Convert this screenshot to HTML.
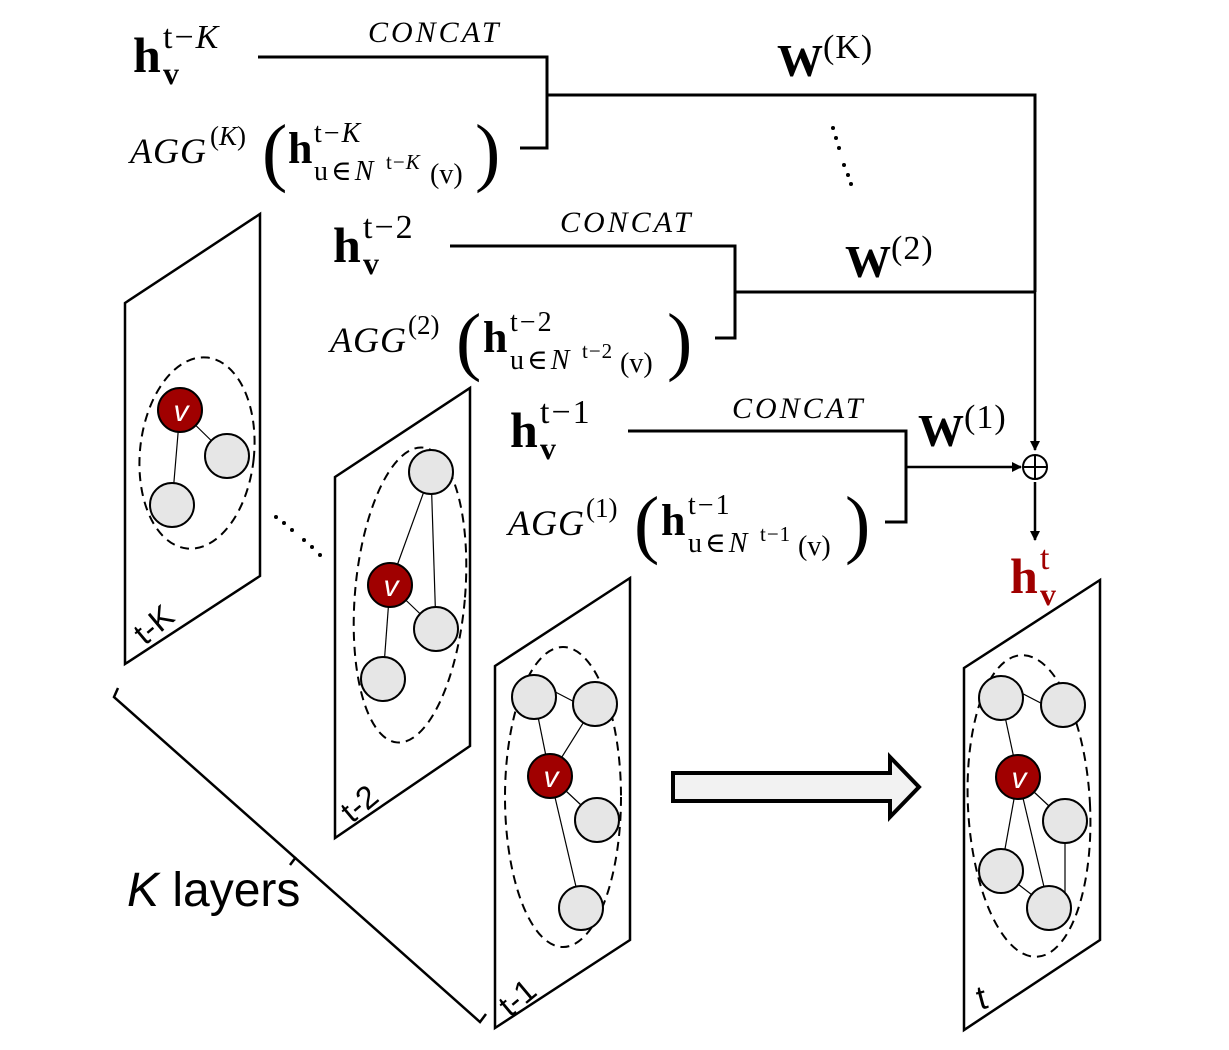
<!DOCTYPE html>
<html><head><meta charset="utf-8"><style>html,body{margin:0;padding:0;background:#fff}svg{display:block}</style></head>
<body>
<svg width="1229" height="1050" viewBox="0 0 1229 1050" xmlns="http://www.w3.org/2000/svg" font-family="Liberation Serif, DejaVu Serif, serif">
<defs>
<marker id="ah" markerWidth="10" markerHeight="10" refX="9" refY="5" orient="auto" markerUnits="userSpaceOnUse"><path d="M0,0 L10,5 L0,10 z" fill="#000"/></marker>
</defs>

<g stroke="#000" stroke-width="3" fill="none">
<polyline points="258,57 547,57 547,148 520,148"/>
<polyline points="547,95 1035,95 1035,292"/>
<polyline points="450,246 735,246 735,338 715,338"/>
<polyline points="735,292 1035,292"/>
<polyline points="628,431 906,431 906,522 885,522"/>
</g>
<g stroke="#000" stroke-width="2.5" fill="none">
<line x1="1035" y1="292" x2="1035" y2="450" marker-end="url(#ah)"/>
<line x1="906" y1="467" x2="1021" y2="467" marker-end="url(#ah)"/>
<line x1="1035" y1="482" x2="1035" y2="540" marker-end="url(#ah)"/>
<circle cx="1035" cy="467" r="12" stroke-width="2"/>
<line x1="1023" y1="467" x2="1047" y2="467" stroke-width="2"/>
<line x1="1035" y1="455" x2="1035" y2="479" stroke-width="2"/>
</g>

<g font-style="italic" font-size="30" letter-spacing="3">
<text x="368" y="42">CONCAT</text>
<text x="560" y="232">CONCAT</text>
<text x="732" y="418">CONCAT</text>
</g>

<g font-size="46">
<text x="777" y="76"><tspan font-weight="bold">W</tspan><tspan font-size="34" dy="-18" letter-spacing="1">(K)</tspan></text>
<text x="845" y="277"><tspan font-weight="bold">W</tspan><tspan font-size="34" dy="-18" letter-spacing="1">(2)</tspan></text>
<text x="918" y="446"><tspan font-weight="bold">W</tspan><tspan font-size="34" dy="-18" letter-spacing="1">(1)</tspan></text>
</g>
<g fill="#000">
<circle cx="833" cy="128" r="2"/><circle cx="836" cy="138" r="2"/><circle cx="839" cy="148" r="2"/><circle cx="844" cy="165" r="2"/><circle cx="848" cy="175" r="2"/><circle cx="851" cy="184" r="2"/>
</g>

<g transform="translate(133,72)">
<text font-size="50" font-weight="bold">h</text>
<text x="30" y="-24" font-size="34" letter-spacing="2">t−<tspan font-style="italic">K</tspan></text>
<text x="30" y="12" font-size="32" font-weight="bold">v</text>
</g>
<g transform="translate(333,262)">
<text font-size="50" font-weight="bold">h</text>
<text x="30" y="-24" font-size="34" letter-spacing="2">t−2</text>
<text x="30" y="12" font-size="32" font-weight="bold">v</text>
</g>
<g transform="translate(510,447)">
<text font-size="50" font-weight="bold">h</text>
<text x="30" y="-24" font-size="34" letter-spacing="2">t−1</text>
<text x="30" y="12" font-size="32" font-weight="bold">v</text>
</g>
<g transform="translate(1010,593)" fill="#a00000">
<text font-size="50" font-weight="bold">h</text>
<text x="30" y="-24" font-size="34">t</text>
<text x="30" y="12" font-size="32" font-weight="bold">v</text>
</g>

<g transform="translate(130,163)">
<text font-size="36" font-style="italic" letter-spacing="1">AGG</text>
<text x="80" y="-18" font-size="27">(<tspan font-style="italic">K</tspan>)</text>
<text x="132" y="14" font-size="76">(</text>
<text x="158" y="0" font-size="44" font-weight="bold">h</text>
<text x="184" y="-21" font-size="28" letter-spacing="2">t−<tspan font-style="italic">K</tspan></text>
<text x="184" y="17" font-size="28" letter-spacing="3">u∈<tspan font-style="italic">N</tspan></text>
<text x="256" y="6" font-size="21" letter-spacing="1">t−<tspan font-style="italic">K</tspan></text>
<text x="300" y="20" font-size="28">(v)</text>
<text x="345" y="14" font-size="76">)</text>
</g>
<g transform="translate(330,352)">
<text font-size="36" font-style="italic" letter-spacing="1">AGG</text>
<text x="78" y="-18" font-size="27">(2)</text>
<text x="126" y="14" font-size="76">(</text>
<text x="153" y="0" font-size="44" font-weight="bold">h</text>
<text x="180" y="-21" font-size="28" letter-spacing="2">t−2</text>
<text x="180" y="17" font-size="28" letter-spacing="3">u∈<tspan font-style="italic">N</tspan></text>
<text x="252" y="6" font-size="21" letter-spacing="1">t−2</text>
<text x="290" y="20" font-size="28">(v)</text>
<text x="337" y="14" font-size="76">)</text>
</g>
<g transform="translate(508,535)">
<text font-size="36" font-style="italic" letter-spacing="1">AGG</text>
<text x="78" y="-18" font-size="27">(1)</text>
<text x="126" y="14" font-size="76">(</text>
<text x="153" y="0" font-size="44" font-weight="bold">h</text>
<text x="180" y="-21" font-size="28" letter-spacing="2">t−1</text>
<text x="180" y="17" font-size="28" letter-spacing="3">u∈<tspan font-style="italic">N</tspan></text>
<text x="252" y="6" font-size="21" letter-spacing="1">t−1</text>
<text x="290" y="20" font-size="28">(v)</text>
<text x="337" y="14" font-size="76">)</text>
</g>

<g stroke="#000" stroke-width="2.5" fill="#fff">
<polygon points="125,303 260,214 260,576 125,664"/>
<polygon points="335,477 470,388 470,746 335,838"/>
<polygon points="495,666 630,578 630,940 495,1028"/>
<polygon points="964,668 1100,580 1100,940 964,1030"/>
</g>

<g stroke="#000" stroke-width="2" fill="none" stroke-dasharray="9,6">
<ellipse cx="197" cy="453" rx="57" ry="96" transform="rotate(6 197 453)"/>
<ellipse cx="410" cy="595" rx="55" ry="148" transform="rotate(5 410 595)"/>
<ellipse cx="563" cy="797" rx="58" ry="150"/>
<ellipse cx="1029" cy="806" rx="61" ry="151" transform="rotate(-3 1029 806)"/>
</g>

<g stroke="#000" stroke-width="1.2">
<line x1="180" y1="410" x2="227" y2="456"/><line x1="180" y1="410" x2="172" y2="505"/>
<line x1="431" y1="472" x2="390" y2="585"/><line x1="431" y1="472" x2="436" y2="629"/><line x1="390" y1="585" x2="436" y2="629"/><line x1="390" y1="585" x2="383" y2="679"/>
<line x1="540" y1="684" x2="590" y2="710"/><line x1="534" y1="697" x2="550" y2="776"/><line x1="595" y1="704" x2="550" y2="776"/><line x1="550" y1="776" x2="597" y2="820"/><line x1="550" y1="776" x2="581" y2="908"/>
<line x1="1006" y1="685" x2="1058" y2="712"/><line x1="1001" y1="698" x2="1018" y2="777"/><line x1="1018" y1="777" x2="1065" y2="821"/><line x1="1018" y1="777" x2="1001" y2="871"/><line x1="1018" y1="777" x2="1049" y2="908"/><line x1="1001" y1="871" x2="1049" y2="908"/><line x1="1065" y1="821" x2="1065" y2="908"/>
</g>

<g stroke="#000" stroke-width="2" fill="#e6e6e6">
<circle cx="227" cy="456" r="22"/><circle cx="172" cy="505" r="22"/>
<circle cx="431" cy="472" r="22"/><circle cx="436" cy="629" r="22"/><circle cx="383" cy="679" r="22"/>
<circle cx="534" cy="697" r="22"/><circle cx="595" cy="704" r="22"/><circle cx="597" cy="820" r="22"/><circle cx="581" cy="908" r="22"/>
<circle cx="1001" cy="698" r="22"/><circle cx="1063" cy="705" r="22"/><circle cx="1065" cy="821" r="22"/><circle cx="1001" cy="871" r="22"/><circle cx="1049" cy="908" r="22"/>
</g>
<g stroke="#000" stroke-width="2" fill="#a00000">
<circle cx="180" cy="410" r="22"/><circle cx="390" cy="585" r="22"/><circle cx="550" cy="776" r="22"/><circle cx="1018" cy="777" r="22"/>
</g>
<g fill="#fff" font-family="Liberation Sans, sans-serif" font-style="italic" font-size="30" text-anchor="middle">
<text x="181" y="421">v</text><text x="391" y="596">v</text><text x="551" y="787">v</text><text x="1019" y="788">v</text>
</g>

<g font-family="Liberation Sans, sans-serif" font-size="32" fill="#000">
<text transform="translate(145,646) rotate(-40)">t-K</text>
<text transform="translate(352,824) rotate(-40)">t-2</text>
<text transform="translate(510,1018) rotate(-40)">t-1</text>
<text transform="translate(980,1010) rotate(-15)" font-size="34">t</text>
</g>

<g fill="#000">
<circle cx="276" cy="517" r="2"/><circle cx="284" cy="523" r="2"/><circle cx="292" cy="530" r="2"/><circle cx="304" cy="540" r="2"/><circle cx="312" cy="547" r="2"/><circle cx="320" cy="555" r="2"/>
</g>

<path d="M673,773 L890,773 L890,757 L919,787 L890,817 L890,801 L673,801 Z" fill="#f2f2f2" stroke="#000" stroke-width="4"/>

<g stroke="#000" stroke-width="2.5" fill="none">
<polyline points="118,688 114,697 480,1022 486,1014"/>
<line x1="296" y1="857" x2="290" y2="865"/>
</g>
<text x="127" y="906" font-family="Liberation Sans, sans-serif" font-size="48"><tspan font-style="italic">K</tspan> layers</text>
</svg>
</body></html>
